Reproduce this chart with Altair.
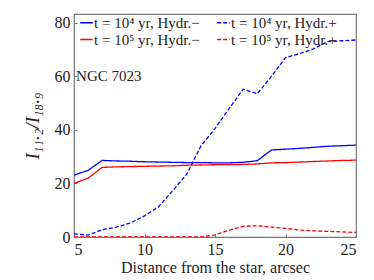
import altair as alt
import pandas as pd

x_vals = list(range(5, 26))
blue_solid = [23.1, 24.9, 28.6, 28.4, 28.3, 28.1, 28.0, 27.9, 27.8, 27.8, 27.7,
              27.7, 27.9, 28.5, 32.5, 32.8, 33.1, 33.5, 33.9, 34.1, 34.3]
red_solid = [20.0, 22.0, 26.0, 26.2, 26.3, 26.4, 26.5, 26.6, 26.8, 26.9, 27.0,
             27.0, 27.1, 27.3, 27.7, 27.8, 28.0, 28.2, 28.4, 28.6, 28.7]
blue_dashed = [1.2, 0.7, 2.7, 3.7, 5.2, 7.9, 11.3, 17.3, 23.5, 34.0, 40.5,
               48.0, 55.2, 53.5, 60.0, 67.0, 68.5, 70.3, 73.0, 73.3, 73.6]
red_dashed = [0, 0, 0, 0, 0, 0, 0, 0, 0, 0, 0.8,
              2.5, 4.0, 4.2, 3.7, 3.2, 2.6, 2.3, 2.1, 1.9, 1.7]

# legend is filled column by column
labels = ["t = 10\u2074 yr,  Hydr.\u2212", "t = 10\u2075 yr,  Hydr.\u2212",
          "t = 10\u2074 yr,  Hydr.+", "t = 10\u2075 yr,  Hydr.+"]
colors = ["#0000ff", "#ff0000", "#0000ff", "#ff0000"]
dashes = [[1, 0], [1, 0], [4, 2], [4, 2]]
series = [blue_solid, red_solid, blue_dashed, red_dashed]

x_ticks = [5, 10, 15, 20, 25]
y_ticks = [0, 20, 40, 60, 80]

rows = []
for lab, vals in zip(labels, series):
    for xv, yv in zip(x_vals, vals):
        rows.append({"x": xv, "y": yv, "series": lab})
df = pd.DataFrame(rows)

FONT = "Liberation Serif"

lines = alt.Chart(df).mark_line(strokeWidth=1.3, clip=True).encode(
    x=alt.X("x:Q", scale=alt.Scale(domain=[5, 25], nice=False),
            axis=alt.Axis(values=x_ticks, title="Distance from the star,  arcsec",
                          offset=-3, tickSize=3, labelPadding=4, domain=False,
                          grid=False, titleFontWeight="normal", titlePadding=2)),
    y=alt.Y("y:Q", scale=alt.Scale(domain=[0, 83.3], nice=False),
            axis=alt.Axis(values=y_ticks, title="I\u2081\u2081.\u2082/I\u2081\u2088.\u2089",
                          offset=-3, tickSize=3, labelPadding=4, domain=False,
                          grid=False, titleFontWeight="normal", titleFontStyle="italic",
                          titleFontSize=19, titlePadding=12)),
    color=alt.Color("series:N", scale=alt.Scale(domain=labels, range=colors),
                    legend=alt.Legend(title=None, orient="none", legendX=5, legendY=1,
                                      columns=2, symbolType="stroke", symbolSize=160,
                                      symbolStrokeWidth=1.5, labelFont=FONT,
                                      labelFontSize=15, labelColor="#222",
                                      columnPadding=10, rowPadding=1, labelOffset=0,
                                      labelLimit=200)),
    strokeDash=alt.StrokeDash("series:N", scale=alt.Scale(domain=labels, range=dashes),
                              legend=None),
    detail="series:N",
)

note_df = pd.DataFrame({"x": [5.15], "y": [60], "t": ["NGC 7023"]})
note = alt.Chart(note_df).mark_text(align="left", baseline="middle", font=FONT,
                                    fontSize=15, color="#222").encode(
    x="x:Q", y="y:Q", text="t:N")

chart = (lines + note).properties(
    width=282, height=223,
    padding={"left": 66, "top": 6, "right": 10, "bottom": 40},
    autosize=alt.AutoSizeParams(type="none"),
).configure_view(stroke="#777", strokeWidth=1.2).configure_axis(
    labelFont=FONT, titleFont=FONT, labelFontSize=16, titleFontSize=16,
    labelColor="#222", titleColor="#222", tickColor="#777",
)

chart.save("out.html", embed_options={"renderer": "svg", "actions": False})
